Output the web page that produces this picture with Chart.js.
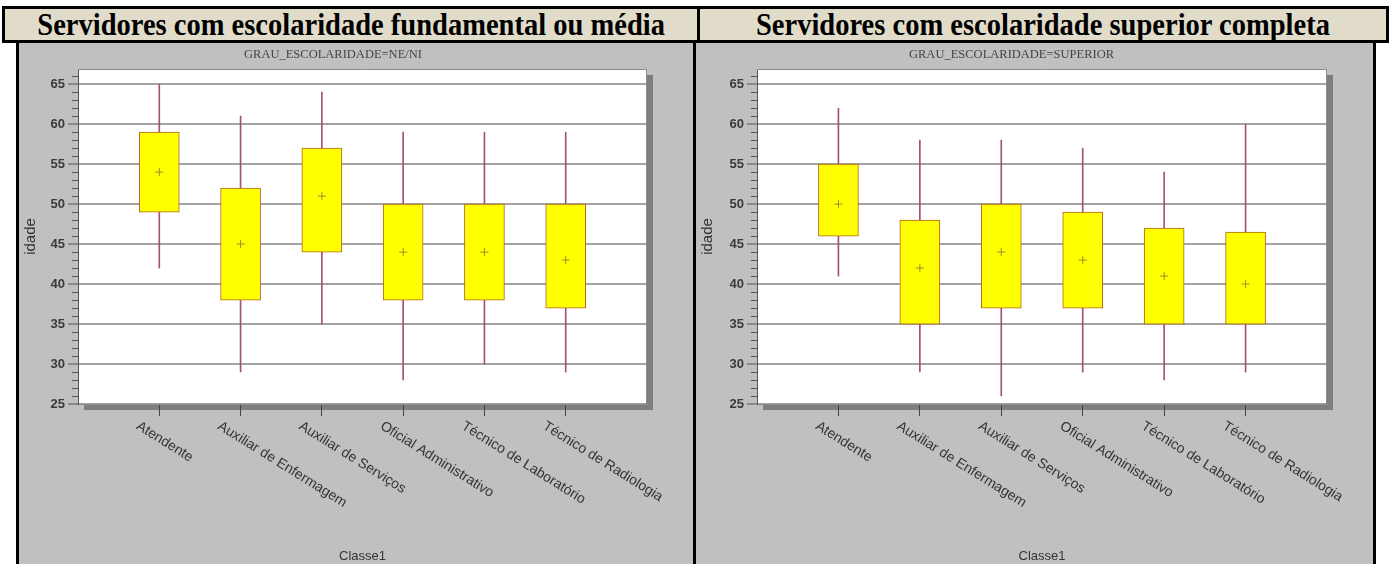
<!DOCTYPE html>
<html>
<head>
<meta charset="utf-8">
<script src="https://cdn.jsdelivr.net/npm/chart.js@4"></script>
<style>
  body { margin: 0; background: #fff; width: 1391px; height: 564px; overflow: hidden; position: relative; }
  .abs { position: absolute; }
  .hbox { left: 2px; top: 6px; width: 1387px; height: 37px; border: 3px solid #000; box-sizing: border-box; background: #e0dcc9; }
  .hdiv { left: 697px; top: 6px; width: 3px; height: 37px; background: #000; }
  .htxt { top: 7px; height: 36px; line-height: 36px; text-align: center; font-family: 'Liberation Serif', 'Times New Roman', serif; font-weight: bold; font-size: 31px; color: #000; white-space: nowrap; }
  .htxt span { display: inline-block; transform: scaleX(0.92); }
  .vline { top: 43px; width: 3px; height: 521px; background: #000; }
  .panel { top: 43px; height: 521px; background: #c0c0c0; }
</style>
</head>
<body>
<div class="abs hbox"></div>
<div class="abs hdiv"></div>
<div class="abs htxt" style="left:5px;width:692px"><span>Servidores com escolaridade fundamental ou média</span></div>
<div class="abs htxt" style="left:700px;width:686px"><span>Servidores com escolaridade superior completa</span></div>

<div class="abs vline" style="left:16px"></div>
<div class="abs panel" style="left:19px;width:674px"><canvas id="c1"></canvas></div>
<div class="abs vline" style="left:693px"></div>
<div class="abs panel" style="left:696px;width:677px"><canvas id="c2"></canvas></div>
<div class="abs vline" style="left:1373px"></div>

<script>
// categorias (Classe1)
const categories = ['Atendente', 'Auxiliar de Enfermagem', 'Auxiliar de Serviços',
  'Oficial Administrativo', 'Técnico de Laboratório', 'Técnico de Radiologia'];

// GRAU_ESCOLARIDADE=NE/NI
const neMin  = [42, 29, 35, 28, 30, 29];
const neQ1   = [49, 38, 44, 38, 38, 37];
const neQ3   = [59, 52, 57, 50, 50, 50];
const neMax  = [65, 61, 64, 59, 59, 59];
const neMean = [54, 45, 51, 44, 44, 43];

// GRAU_ESCOLARIDADE=SUPERIOR
const supMin  = [41, 29, 26, 29, 28, 29];
const supQ1   = [46, 35, 37, 37, 35, 35];
const supQ3   = [55, 48, 50, 49, 47, 46.5];
const supMax  = [62, 58, 58, 57, 54, 60];
const supMean = [50, 42, 44, 43, 41, 40];

const yTicks = [25, 30, 35, 40, 45, 50, 55, 60, 65];

const chartFont = "'Liberation Sans', Arial, sans-serif";

// moldura, sombra, ticks menores e rótulos inclinados
const framePlugin = {
  id: 'frame',
  beforeDraw(chart) {
    const { ctx, chartArea: a } = chart;
    ctx.save();
    ctx.fillStyle = '#7e7e7e';
    ctx.fillRect(a.left + 6, a.top + 6, a.right - a.left, a.bottom - a.top);
    ctx.fillStyle = '#fff';
    ctx.fillRect(a.left, a.top, a.right - a.left, a.bottom - a.top);
    ctx.restore();
  },
  beforeDatasetsDraw(chart) {
    const { ctx, chartArea: a } = chart;
    ctx.save();
    ctx.strokeStyle = '#8c8c8c';
    ctx.lineWidth = 1;
    ctx.beginPath();
    ctx.moveTo(a.left, a.top + 0.5);
    ctx.lineTo(a.right - 0.5, a.top + 0.5);
    ctx.lineTo(a.right - 0.5, a.bottom);
    ctx.stroke();
    ctx.restore();
  },
  afterDraw(chart, args, opts) {
    const { ctx, chartArea: a, scales } = chart;
    ctx.save();
    // minor ticks on the y axis
    ctx.strokeStyle = '#555';
    ctx.lineWidth = 1;
    ctx.beginPath();
    for (let v = 26; v <= 66; v++) {
      if (v % 5 === 0) continue;
      const y = Math.round(scales.y.getPixelForValue(v)) + 0.5;
      ctx.moveTo(a.left - 6, y);
      ctx.lineTo(a.left, y);
    }
    ctx.stroke();
    // slanted category labels
    ctx.fillStyle = '#333';
    ctx.font = '14px ' + chartFont;
    ctx.textAlign = 'left';
    ctx.textBaseline = 'top';
    opts.labels.forEach((lab, i) => {
      const x = scales.x.getPixelForValue(i + 1);
      ctx.save();
      ctx.translate(x - 18, a.bottom + 15);
      ctx.rotate(32 * Math.PI / 180);
      ctx.fillText(lab, 0, 0);
      ctx.restore();
    });
    ctx.restore();
  }
};

function makeChart(id, title, mins, q1, q3, maxs, means, axisWidth) {
  const whiskers = categories.map((c, i) => ({ x: i + 1, y: [mins[i], maxs[i]] }));
  const boxes = categories.map((c, i) => ({ x: i + 1, y: [q1[i], q3[i]] }));
  const meanPts = categories.map((c, i) => ({ x: i + 1, y: means[i] }));
  return new Chart(document.getElementById(id), {
    type: 'bar',
    data: {
      datasets: [
        {
          data: whiskers,
          backgroundColor: '#a0566e',
          barThickness: 1,
          grouped: false,
          order: 3
        },
        {
          data: boxes,
          backgroundColor: '#ffff00',
          borderColor: '#b0661e',
          borderWidth: 1,
          borderSkipped: false,
          barThickness: 40,
          grouped: false,
          order: 2
        },
        {
          type: 'scatter',
          data: meanPts,
          pointStyle: 'cross',
          pointRadius: 4,
          borderColor: '#a08a30',
          borderWidth: 1,
          order: 1
        }
      ]
    },
    options: {
      responsive: true,
      maintainAspectRatio: false,
      animation: false,
      layout: { padding: { top: 0, left: 0, right: 46, bottom: 0 } },
      plugins: {
        legend: { display: false },
        tooltip: { enabled: false },
        title: {
          display: true,
          text: title,
          color: '#444',
          font: { family: "'Liberation Serif', 'Times New Roman', serif", size: 12.5, weight: 'normal', lineHeight: 1.2 },
          padding: { top: 4, bottom: 7 }
        },
        frame: { labels: categories }
      },
      scales: {
        x: {
          type: 'linear',
          min: 0,
          max: 7,
          offset: false,
          afterFit: (s) => { s.height = 160; },
          ticks: { stepSize: 1, display: false },
          grid: {
            offset: false,
            drawOnChartArea: false,
            tickLength: 12,
            tickColor: (c) => (c.tick && c.tick.value >= 1 && c.tick.value <= 6) ? '#444' : 'rgba(0,0,0,0)'
          },
          border: { color: '#8c8c8c' },
          title: {
            display: true,
            text: 'Classe1',
            color: '#333',
            font: { family: chartFont, size: 13 },
            padding: { top: 0, bottom: 0 }
          }
        },
        y: {
          min: 25,
          max: 66.9,
          afterFit: (s) => { s.width = axisWidth; },
          afterBuildTicks: (s) => { s.ticks = yTicks.map(v => ({ value: v })); },
          ticks: {
            color: '#3a3a3a',
            font: { family: chartFont, size: 13, weight: 'bold' },
            padding: 3,
            includeBounds: false
          },
          grid: {
            color: '#a4a4a4',
            lineWidth: 2,
            tickLength: 10,
            tickColor: '#555',
            tickWidth: 1
          },
          border: { color: '#555' },
          title: {
            display: true,
            text: 'idade',
            color: '#333',
            font: { family: chartFont, size: 15 },
            padding: { top: 3, bottom: 0 }
          }
        }
      }
    },
    plugins: [framePlugin]
  });
}

makeChart('c1', 'GRAU_ESCOLARIDADE=NE/NI', neMin, neQ1, neQ3, neMax, neMean, 59);
makeChart('c2', 'GRAU_ESCOLARIDADE=SUPERIOR', supMin, supQ1, supQ3, supMax, supMean, 61);
</script>
</body>
</html>
